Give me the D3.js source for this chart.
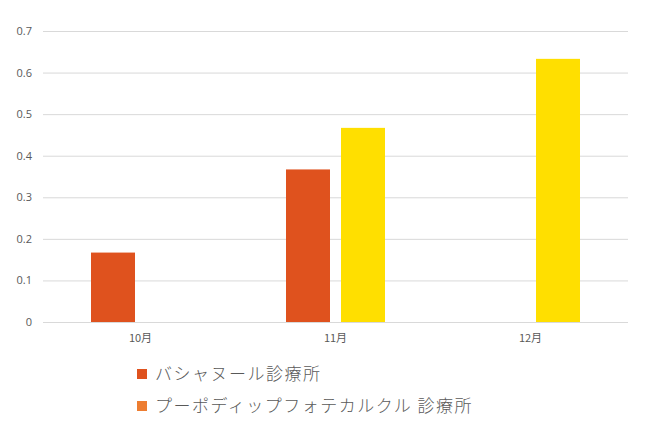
<!DOCTYPE html>
<html><head><meta charset="utf-8">
<script src="https://cdn.jsdelivr.net/npm/d3@7"></script>
<style>body{margin:0;background:#fff}svg{display:block}text{font-family:"Noto Sans CJK JP","Open Sans",sans-serif}</style>
</head><body>
<svg id="c" width="651" height="433"></svg>
<script>
const categories = ["10月","11月","12月"];
const seriesNames = ["バシャヌール診療所","プーポディップフォテカルクル 診療所"];
const series1 = [0.167, 0.367, null];
const series2 = [null, 0.467, 0.633];
const yTicks = [0,0.1,0.2,0.3,0.4,0.5,0.6,0.7];
const barColors = ["#DF521E","#FFDF00"];
const legendColors = ["#DF521E","#ED7D31"];

const svg = d3.select("#c");
const m = {l:43, r:23, t:31, b:111};
const W = 651, H = 433;
const x = d3.scaleBand().domain(categories).range([m.l, W-m.r]);
const y = d3.scaleLinear().domain([0,0.7]).range([H-m.b, m.t]);
const barW = 44, gap = 11;

const gy = svg.append("g").attr("transform",`translate(${m.l},0)`)
  .call(d3.axisLeft(y).tickValues(yTicks).tickSize(-(W-m.l-m.r)).tickFormat(d=>d===0?"0":d3.format(".1f")(d)).tickPadding(11));
gy.select(".domain").remove();
gy.selectAll("line").attr("stroke","#d9d9d9");
gy.selectAll("text").attr("fill","#595959").style("font-size","11px").style("font-family","'Open Sans',sans-serif");

const gx = svg.append("g").attr("transform",`translate(0,${H-m.b})`)
  .call(d3.axisBottom(x).tickSize(0).tickPadding(12));
gx.select(".domain").remove();
gx.selectAll("text").attr("fill","#595959").style("font-size","11px");

const data = [series1, series2];
data.forEach((s,si)=>{
  svg.append("g").selectAll("rect").data(categories.map((c,i)=>({c,v:s[i]})).filter(d=>d.v!=null))
    .join("rect")
    .attr("x",d=>x(d.c)+x.bandwidth()/2-(barW+gap/2)+si*(barW+gap))
    .attr("width",barW)
    .attr("y",d=>y(d.v))
    .attr("height",d=>y(0)-y(d.v))
    .attr("fill",barColors[si]);
});

const lg = svg.append("g");
seriesNames.forEach((n,i)=>{
  const yy = 374 + i*32;
  lg.append("rect").attr("x",137).attr("y",yy-5).attr("width",10).attr("height",10).attr("fill",legendColors[i]);
  lg.append("text").attr("x",155).attr("y",yy).attr("dy","0.35em").attr("fill","#595959")
    .style("font-size","17px").style("font-weight","300").style("letter-spacing","1.5px").text(n);
});
</script>
</body></html>
